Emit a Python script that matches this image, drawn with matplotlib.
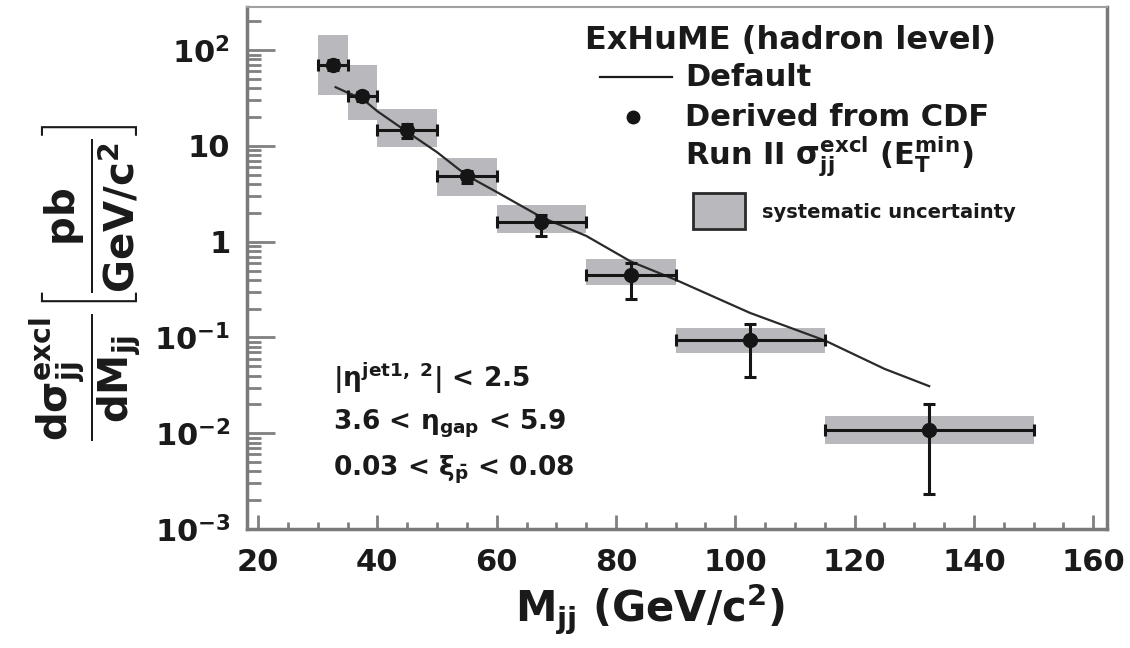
import numpy as np
import matplotlib
matplotlib.use("Agg")
import matplotlib.pyplot as plt
from matplotlib.lines import Line2D
from matplotlib.patches import Rectangle
from matplotlib.ticker import FixedLocator, FuncFormatter, MultipleLocator

plt.rcParams['font.family'] = ['DejaVu Sans']
plt.rcParams['font.weight'] = 'bold'
plt.rcParams['mathtext.fontset'] = 'custom'
plt.rcParams['mathtext.rm'] = 'DejaVu Sans:bold'
plt.rcParams['mathtext.it'] = 'DejaVu Sans:bold'
plt.rcParams['mathtext.bf'] = 'DejaVu Sans:bold'
plt.rcParams['mathtext.default'] = 'rm'

# bins in M_jj (GeV/c^2)
bin_lo = [30, 35, 40, 50, 60, 75, 90, 115]
bin_hi = [35, 40, 50, 60, 75, 90, 115, 150]
m_jj = [32.5, 37.5, 45, 55, 67.5, 82.5, 102.5, 132.5]

# derived from CDF Run II
xsec = [70, 33, 14.6, 4.8, 1.6, 0.454, 0.095, 0.0109]
err_lo = [8, 3.5, 2.5, 0.7, 0.45, 0.2, 0.056, 0.0086]
err_hi = [8, 3.5, 2.5, 0.7, 0.3, 0.15, 0.044, 0.0095]
syst_lo = [34, 18.5, 9.7, 3.0, 1.22, 0.356, 0.069, 0.0077]
syst_hi = [143, 70, 24, 7.4, 2.4, 0.667, 0.127, 0.0152]

# ExHuME default curve
exhume_m = [33, 35, 37.5, 40, 45, 50, 55, 60, 67.5, 75, 82.5, 90, 102.5, 115, 125, 132.5]
exhume_y = [41, 36, 31, 23, 14, 8.6, 4.9, 3.3, 1.8, 1.15, 0.62, 0.4, 0.18, 0.093, 0.047, 0.031]

W, H = 1130, 648
fig = plt.figure(figsize=(W / 100, H / 100), dpi=100)
ax = fig.add_axes([247 / W, 1 - 529 / H, (1107 - 247) / W, (529 - 7) / H])

def fx(x):
    return x / W

def fy(y):
    return 1 - y / H

# systematic boxes
widths = [h - l for l, h in zip(bin_lo, bin_hi)]
heights = [h - l for l, h in zip(syst_lo, syst_hi)]
ax.bar(bin_lo, heights, width=widths, bottom=syst_lo, align='edge',
       color='#b9b9bd', edgecolor='none', zorder=1)

ax.plot(exhume_m, exhume_y, color='#2a2a2a', lw=1.6, zorder=2)

xerr = [[m - l for m, l in zip(m_jj, bin_lo)], [h - m for m, h in zip(m_jj, bin_hi)]]
ax.errorbar(m_jj, xsec, xerr=xerr, yerr=[err_lo, err_hi], fmt='o', color='#151515',
            ms=10, elinewidth=2.2, capsize=4, capthick=2.2, zorder=3)

ax.set_yscale('log')
ax.set_xlim(18.15, 162.3)
ax.set_ylim(1e-3, 282)

ax.xaxis.set_major_locator(MultipleLocator(20))
ax.xaxis.set_minor_locator(MultipleLocator(5))
ax.yaxis.set_major_locator(FixedLocator([1e-3, 1e-2, 1e-1, 1, 10, 100]))

def ylab(v, pos):
    e = int(round(np.log10(v)))
    if e == 0:
        return '1'
    if e == 1:
        return '10'
    return r'$\mathregular{10^{%d}}$' % e

ax.yaxis.set_major_formatter(FuncFormatter(ylab))
ax.tick_params(axis='both', which='both', direction='in', colors='#808080',
               labelcolor='#1a1a1a', labelsize=22, top=False, right=False)
ax.tick_params(axis='y', which='major', length=20, width=2, pad=12)
ax.tick_params(axis='y', which='minor', length=10, width=2)
ax.tick_params(axis='x', which='major', length=10, width=2, pad=14)
ax.tick_params(axis='x', which='minor', length=5, width=2)
for s in ['left', 'bottom', 'right']:
    ax.spines[s].set_color('#7a7a7a')
    ax.spines[s].set_linewidth(2.5)
ax.spines['top'].set_color('#a0a0a0')
ax.spines['top'].set_linewidth(1.5)

ax.set_xlabel(r'M$_{\mathregular{jj}}$ (GeV/c$^{\mathregular{2}}$)', fontsize=30,
              fontweight='bold', color='#1a1a1a')
ax.xaxis.set_label_coords((650 - 247) / 860, (529 - 609) / 522)
ax.xaxis.label.set_va('center')

fig.text(fx(85), fy(282),
         r'$\dfrac{d\sigma^{excl}_{jj}}{dM_{jj}}\left[\dfrac{pb}{GeV/c^{2}}\right]$',
         rotation=90, ha='center', va='center', fontsize=29, color='#1a1a1a')

# legend
fig.text(fx(585), fy(40), 'ExHuME (hadron level)', fontsize=23, ha='left', va='center', color='#1a1a1a')
fig.add_artist(Line2D([fx(600), fx(672)], [fy(77), fy(77)], color='#1a1a1a', lw=1.6))
fig.text(fx(685), fy(77), 'Default', fontsize=22, ha='left', va='center', color='#1a1a1a')
fig.add_artist(Line2D([fx(633)], [fy(117)], marker='o', ms=9, color='#151515', lw=0))
fig.text(fx(685), fy(117), 'Derived from CDF', fontsize=22, ha='left', va='center', color='#1a1a1a')
fig.text(fx(685), fy(157), r'Run II $\sigma^{excl}_{jj}$ ($E^{min}_{T}$)', fontsize=22,
         ha='left', va='center', color='#1a1a1a')
fig.add_artist(Rectangle((fx(693), fy(229)), fx(745) - fx(693), fy(193) - fy(229),
                         transform=fig.transFigure, facecolor='#b9b9bd',
                         edgecolor='#2a2a2a', lw=2))
fig.text(fx(762), fy(212), 'systematic uncertainty', fontsize=14, ha='left', va='center',
         color='#1a1a1a')

# cuts
fig.text(fx(333), fy(378), r'$|\eta^{jet1,\ 2}|$ < 2.5', fontsize=19, ha='left', va='center', color='#1a1a1a')
fig.text(fx(333), fy(424), r'3.6 < $\eta_{gap}$ < 5.9', fontsize=19, ha='left', va='center', color='#1a1a1a')
fig.text(fx(333), fy(470), r'0.03 < $\xi_{\bar{p}}$ < 0.08', fontsize=19, ha='left', va='center', color='#1a1a1a')

fig.savefig('out.png', dpi=100)
